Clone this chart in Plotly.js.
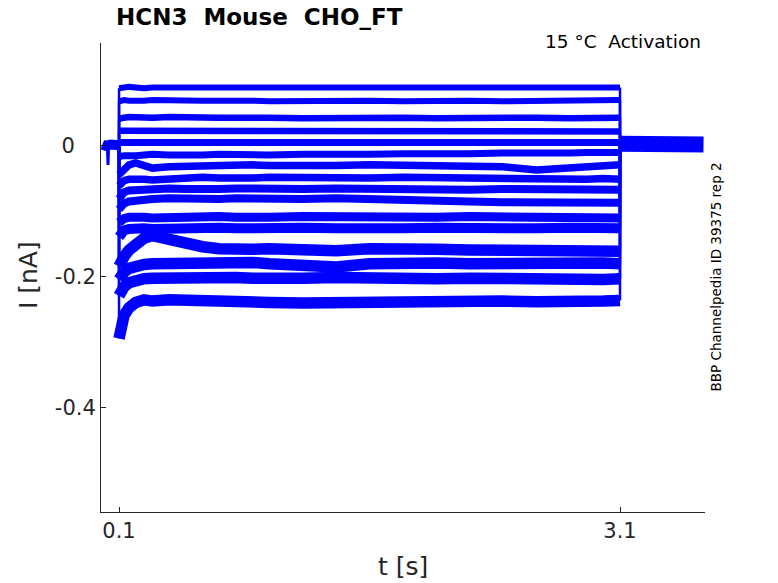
<!DOCTYPE html>
<html>
<head>
<meta charset="utf-8">
<script src="https://cdn.plot.ly/plotly-3.0.1.min.js"></script>
<style>html,body{margin:0;padding:0;background:#fff;}#chart{width:778px;height:583px;}</style>
</head>
<body>
<div id="chart"></div>
<script>
// ---- data ----
const stepTimes = [0.1,0.11,0.13,0.16,0.2,0.25,0.3,0.4,0.5,0.6,0.7,0.8,0.9,1.0,1.2,1.4,1.6,1.8,2.0,2.2,2.4,2.6,2.8,2.9,3.0,3.1];
const sweep1  = [0.087,0.088,0.088,0.089,0.088,0.087,0.088,0.088,0.089,0.088,0.087,0.088,0.088,0.089,0.088,0.087,0.088,0.089,0.088,0.087,0.088,0.089,0.088,0.088,0.089,0.088];
const sweep2  = [0.067,0.068,0.069,0.068,0.067,0.068,0.069,0.068,0.067,0.068,0.068,0.069,0.068,0.067,0.068,0.069,0.068,0.067,0.068,0.068,0.067,0.068,0.069,0.068,0.068,0.069];
const sweep3  = [0.040,0.041,0.042,0.043,0.042,0.041,0.042,0.043,0.042,0.041,0.042,0.042,0.043,0.042,0.041,0.042,0.043,0.042,0.041,0.042,0.043,0.042,0.041,0.042,0.043,0.042];
const sweep4  = [0.022,0.022,0.021,0.020,0.021,0.022,0.021,0.020,0.021,0.022,0.021,0.020,0.021,0.022,0.021,0.020,0.021,0.022,0.021,0.020,0.021,0.021,0.020,0.021,0.022,0.021];
const sweep5  = [0.004,0.004,0.003,0.002,0.003,0.004,0.003,0.002,0.003,0.003,0.002,0.003,0.004,0.003,0.002,0.003,0.004,0.003,0.002,0.003,0.003,0.002,0.003,0.004,0.003,0.004];
const sweep6  = [-0.016,-0.017,-0.016,-0.015,-0.016,-0.015,-0.014,-0.015,-0.016,-0.015,-0.014,-0.015,-0.016,-0.015,-0.014,-0.015,-0.014,-0.013,-0.014,-0.013,-0.012,-0.013,-0.012,-0.011,-0.012,-0.011];
const sweep7  = [-0.045,-0.042,-0.036,-0.030,-0.027,-0.030,-0.035,-0.033,-0.032,-0.031,-0.032,-0.031,-0.030,-0.031,-0.032,-0.031,-0.030,-0.031,-0.032,-0.031,-0.033,-0.038,-0.034,-0.032,-0.031,-0.030];
const sweep8  = [-0.062,-0.058,-0.054,-0.052,-0.051,-0.052,-0.053,-0.051,-0.050,-0.049,-0.050,-0.051,-0.050,-0.049,-0.050,-0.051,-0.050,-0.049,-0.050,-0.051,-0.052,-0.051,-0.053,-0.052,-0.051,-0.052];
const sweep9  = [-0.082,-0.077,-0.072,-0.069,-0.068,-0.067,-0.068,-0.066,-0.067,-0.068,-0.067,-0.066,-0.067,-0.068,-0.067,-0.066,-0.067,-0.068,-0.069,-0.068,-0.067,-0.068,-0.069,-0.068,-0.069,-0.068];
const sweep10 = [-0.098,-0.094,-0.089,-0.086,-0.084,-0.083,-0.082,-0.081,-0.082,-0.083,-0.082,-0.081,-0.082,-0.083,-0.082,-0.081,-0.083,-0.084,-0.085,-0.086,-0.087,-0.088,-0.089,-0.088,-0.089,-0.088];
const sweep11 = [-0.118,-0.115,-0.112,-0.110,-0.109,-0.110,-0.111,-0.110,-0.109,-0.108,-0.109,-0.110,-0.111,-0.110,-0.109,-0.110,-0.111,-0.112,-0.110,-0.109,-0.110,-0.111,-0.112,-0.111,-0.112,-0.111];
const sweep12 = [-0.140,-0.135,-0.130,-0.128,-0.126,-0.127,-0.128,-0.127,-0.126,-0.125,-0.126,-0.127,-0.126,-0.125,-0.126,-0.127,-0.128,-0.127,-0.126,-0.127,-0.128,-0.127,-0.126,-0.127,-0.128,-0.127];
const sweep13 = [-0.185,-0.178,-0.170,-0.160,-0.150,-0.142,-0.138,-0.145,-0.152,-0.155,-0.158,-0.160,-0.159,-0.158,-0.160,-0.161,-0.158,-0.157,-0.159,-0.160,-0.161,-0.162,-0.163,-0.162,-0.163,-0.162];
const sweep14 = [-0.205,-0.200,-0.194,-0.188,-0.184,-0.182,-0.181,-0.180,-0.179,-0.180,-0.181,-0.180,-0.179,-0.181,-0.182,-0.186,-0.181,-0.179,-0.180,-0.181,-0.180,-0.181,-0.182,-0.181,-0.180,-0.181];
const sweep15 = [-0.230,-0.224,-0.216,-0.210,-0.206,-0.204,-0.203,-0.202,-0.203,-0.204,-0.203,-0.202,-0.203,-0.204,-0.203,-0.202,-0.204,-0.205,-0.204,-0.203,-0.204,-0.206,-0.205,-0.204,-0.205,-0.204];
const sweep16 = [-0.295,-0.275,-0.260,-0.248,-0.240,-0.236,-0.238,-0.236,-0.236,-0.237,-0.236,-0.238,-0.240,-0.240,-0.241,-0.240,-0.238,-0.237,-0.236,-0.237,-0.238,-0.239,-0.240,-0.239,-0.238,-0.237];
const preTimes  = [0, 0.02, 0.05, 0.08, 0.1];
const preValues = [0.001, -0.001, 0.001, -0.001, 0.0];
const spikeTimes  = [0.030, 0.034, 0.038];
const spikeValues = [0.0, -0.030, 0.0];
const postTimes  = [3.1, 3.2, 3.3, 3.4, 3.5, 3.6];
const postValues = [0.002, 0.001, 0.002, 0.001, 0.002, 0.001];
const xTickVals = [0.1, 3.1];
const xTickText = ['0.1', '3.1'];
const yTickVals = [0, -0.2, -0.4];
const yTickText = ['0\u2003', '-0.2', '-0.4'];

const sweeps = [sweep1,sweep2,sweep3,sweep4,sweep5,sweep6,sweep7,sweep8,sweep9,sweep10,sweep11,sweep12,sweep13,sweep14,sweep15,sweep16];
const widths = [6,6,6.5,6.5,7,7,7.5,7.5,8,8,9,10,11.5,11.5,11.5,11.5];
const BLUE = '#0000ff';

const traces = [];
traces.push({x: preTimes, y: preValues, mode: 'lines', line: {color: BLUE, width: 10}, hoverinfo: 'skip'});
traces.push({x: spikeTimes, y: spikeValues, mode: 'lines', line: {color: BLUE, width: 3}, hoverinfo: 'skip'});
traces.push({x: postTimes, y: postValues, mode: 'lines', line: {color: BLUE, width: 16}, hoverinfo: 'skip'});
const tOn = stepTimes[0], tOff = stepTimes[stepTimes.length - 1];
sweeps.forEach((s, i) => {
  // thin vertical jumps at step on / off
  traces.push({x: [tOn, tOn], y: [preValues[preValues.length-1], s[0]], mode: 'lines', line: {color: BLUE, width: 2.5}, hoverinfo: 'skip'});
  traces.push({x: [tOff, tOff], y: [s[s.length-1], postValues[0]], mode: 'lines', line: {color: BLUE, width: 2.5}, hoverinfo: 'skip'});
  traces.push({x: stepTimes, y: s, mode: 'lines', line: {color: BLUE, width: widths[i]}, hoverinfo: 'skip'});
});

const F = 'DejaVu Sans, Verdana, sans-serif';
const AX = '#262626';
const layout = {
  width: 778, height: 583,
  margin: {l: 101, r: 73, t: 43, b: 71},
  paper_bgcolor: '#fff', plot_bgcolor: '#fff',
  showlegend: false,
  xaxis: {
    range: [-0.008, 3.609], tickvals: xTickVals, ticktext: xTickText,
    ticks: 'inside', ticklen: 5, tickcolor: AX, showline: true, linecolor: AX, linewidth: 1,
    showgrid: false, zeroline: false, tickfont: {family: F, size: 21, color: AX}
  },
  yaxis: {
    range: [-0.56, 0.156], tickvals: yTickVals, ticktext: yTickText,
    ticks: 'inside', ticklen: 5, tickcolor: AX, showline: true, linecolor: AX, linewidth: 1,
    showgrid: false, zeroline: false, tickfont: {family: F, size: 21, color: AX}
  },
  annotations: [
    {text: '<b>HCN3\u00a0 Mouse\u00a0 CHO_FT</b>', xref: 'paper', yref: 'paper', x: 0.0215, y: 1.0554,
     xanchor: 'left', yanchor: 'middle', showarrow: false, font: {family: F, size: 23, color: '#000'}},
    {text: '15 \u00b0C\u00a0 Activation', xref: 'paper', yref: 'paper', x: 0.9967, y: 1.004,
     xanchor: 'right', yanchor: 'middle', showarrow: false, font: {family: F, size: 18.5, color: '#000'}},
    {text: 'BBP Channelpedia ID 39375 rep 2', xref: 'paper', yref: 'paper', x: 1.018, y: 0.502,
     xanchor: 'center', yanchor: 'middle', textangle: -90, showarrow: false, font: {family: F, size: 13.5, color: '#000'}},
    {text: 't [s]', xref: 'paper', yref: 'paper', x: 0.5, y: -0.117,
     xanchor: 'center', yanchor: 'middle', showarrow: false, font: {family: F, size: 25, color: AX}},
    {text: 'I [nA]', xref: 'paper', yref: 'paper', x: -0.121, y: 0.505,
     xanchor: 'center', yanchor: 'middle', textangle: -90, showarrow: false, font: {family: F, size: 25, color: AX}}
  ]
};
Plotly.newPlot('chart', traces, layout, {staticPlot: true, displayModeBar: false});
</script>
</body>
</html>
